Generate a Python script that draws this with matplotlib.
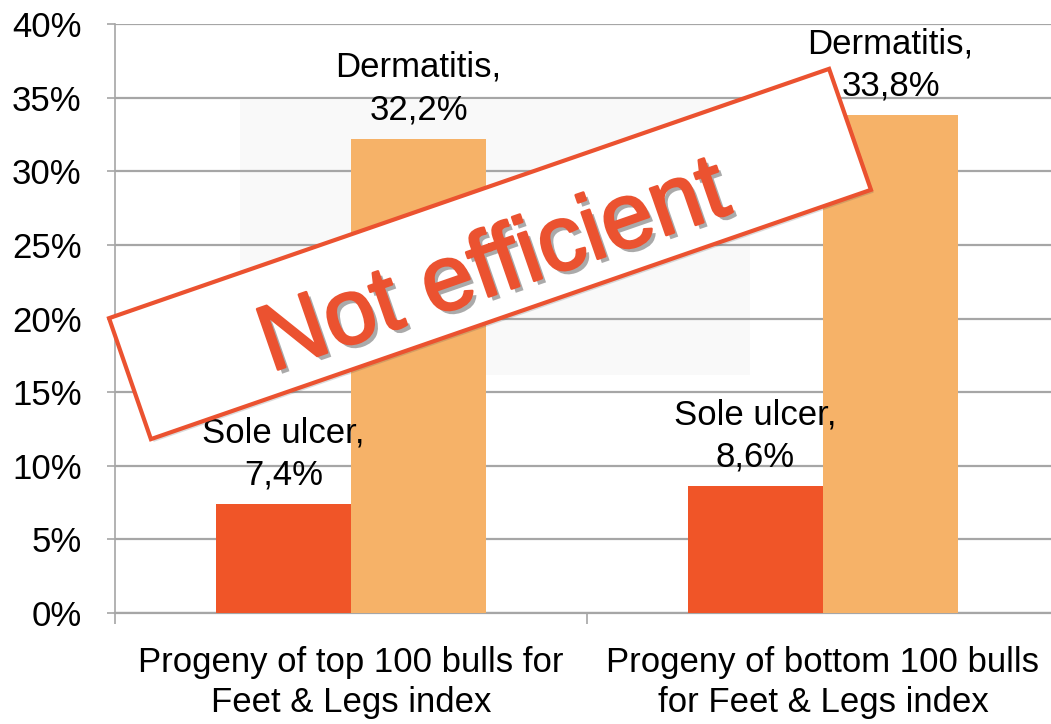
import matplotlib
matplotlib.use("Agg")
import matplotlib.pyplot as plt
import numpy as np
from matplotlib.patches import Rectangle
from matplotlib.transforms import Affine2D, IdentityTransform
import matplotlib.patheffects as pe

plt.rcParams['font.family'] = ['Liberation Sans', 'DejaVu Sans']

categories = ["Progeny of top 100 bulls for\nFeet & Legs index",
              "Progeny of bottom 100 bulls\nfor Feet & Legs index"]
series_names = ["Sole ulcer", "Dermatitis"]
sole_ulcer = [7.4, 8.6]
dermatitis = [32.2, 33.8]
value_labels_sole = ["7,4%", "8,6%"]
value_labels_derm = ["32,2%", "33,8%"]
y_ticks = [0, 5, 10, 15, 20, 25, 30, 35, 40]
y_tick_labels = ["0%", "5%", "10%", "15%", "20%", "25%", "30%", "35%", "40%"]
stamp_text = "Not efficient"

c_sole = "#F05528"
c_derm = "#F6B268"
c_stamp = "#EB5230"
grid_c = "#A6A6A6"

W, H = 1051, 724
fig = plt.figure(figsize=(W / 100, H / 100), dpi=100)
ax = fig.add_axes([115 / W, (H - 613) / H, (1059 - 115) / W, (613 - 24) / H])

# faint grey pasted-image background (behind gridlines and bars)
ax.add_patch(Rectangle((240 / W, (H - 375) / H), 510 / W, 275 / H,
                       transform=fig.transFigure, facecolor="#F9F9F9",
                       edgecolor="none", zorder=0.5, clip_on=False))

x = np.arange(len(categories))
bw = 0.286
ax.bar(x - bw / 2, sole_ulcer, bw, color=c_sole, zorder=3)
ax.bar(x + bw / 2, dermatitis, bw, color=c_derm, zorder=3)

for i in range(len(categories)):
    ax.annotate(f"{series_names[0]},\n{value_labels_sole[i]}", (x[i] - bw / 2, sole_ulcer[i]),
                xytext=(0, 9), textcoords="offset points", ha="center", va="bottom",
                fontsize=25, linespacing=1.36, zorder=4)
    ax.annotate(f"{series_names[1]},\n{value_labels_derm[i]}", (x[i] + bw / 2, dermatitis[i]),
                xytext=(0, 9), textcoords="offset points", ha="center", va="bottom",
                fontsize=25, linespacing=1.36, zorder=4)

ax.set_ylim(0, 40)
ax.set_xlim(-0.5, 1.5)
ax.set_yticks(y_ticks)
ax.set_yticklabels(y_tick_labels, fontsize=25)
ax.yaxis.grid(True, color=grid_c, linewidth=1.6, zorder=1)
ax.set_axisbelow(True)
ax.tick_params(axis="y", length=6, width=1.2, color=grid_c, pad=18)

ax.set_xticks(x)
ax.set_xticklabels(categories, fontsize=25, linespacing=1.26)
ax.set_xticks([-0.5, 0.5, 1.5], minor=True)
ax.tick_params(axis="x", which="major", length=0, pad=24)
ax.tick_params(axis="x", which="minor", length=8, width=1.2, color=grid_c)

for s in ["top", "right"]:
    ax.spines[s].set_visible(False)
ax.spines["left"].set_color(grid_c)
ax.spines["left"].set_linewidth(1.2)
ax.spines["bottom"].set_color(grid_c)
ax.spines["bottom"].set_linewidth(1.6)

# "Not efficient" stamp
cx, cy = 490, H - 254
rw, rh = 762, 128
ang = 19.1
tr = Affine2D().rotate_deg_around(cx, cy, ang) + IdentityTransform()
stamp = Rectangle((cx - rw / 2, cy - rh / 2), rw, rh, transform=tr,
                  facecolor="white", edgecolor=c_stamp, linewidth=3, zorder=10,
                  path_effects=[pe.SimplePatchShadow(offset=(2, -2), alpha=0.2), pe.Normal()])
fig.patches.append(stamp)
fig.text(502 / W, (H - 292) / H, stamp_text, fontsize=67, color=c_stamp,
         rotation=ang, rotation_mode="anchor", ha="center", va="baseline", zorder=11,
         path_effects=[pe.SimplePatchShadow(offset=(3, -3), shadow_rgbFace="#444444", alpha=0.45),
                       pe.withStroke(linewidth=1.8, foreground=c_stamp)])

fig.savefig("out.png", dpi=100)
